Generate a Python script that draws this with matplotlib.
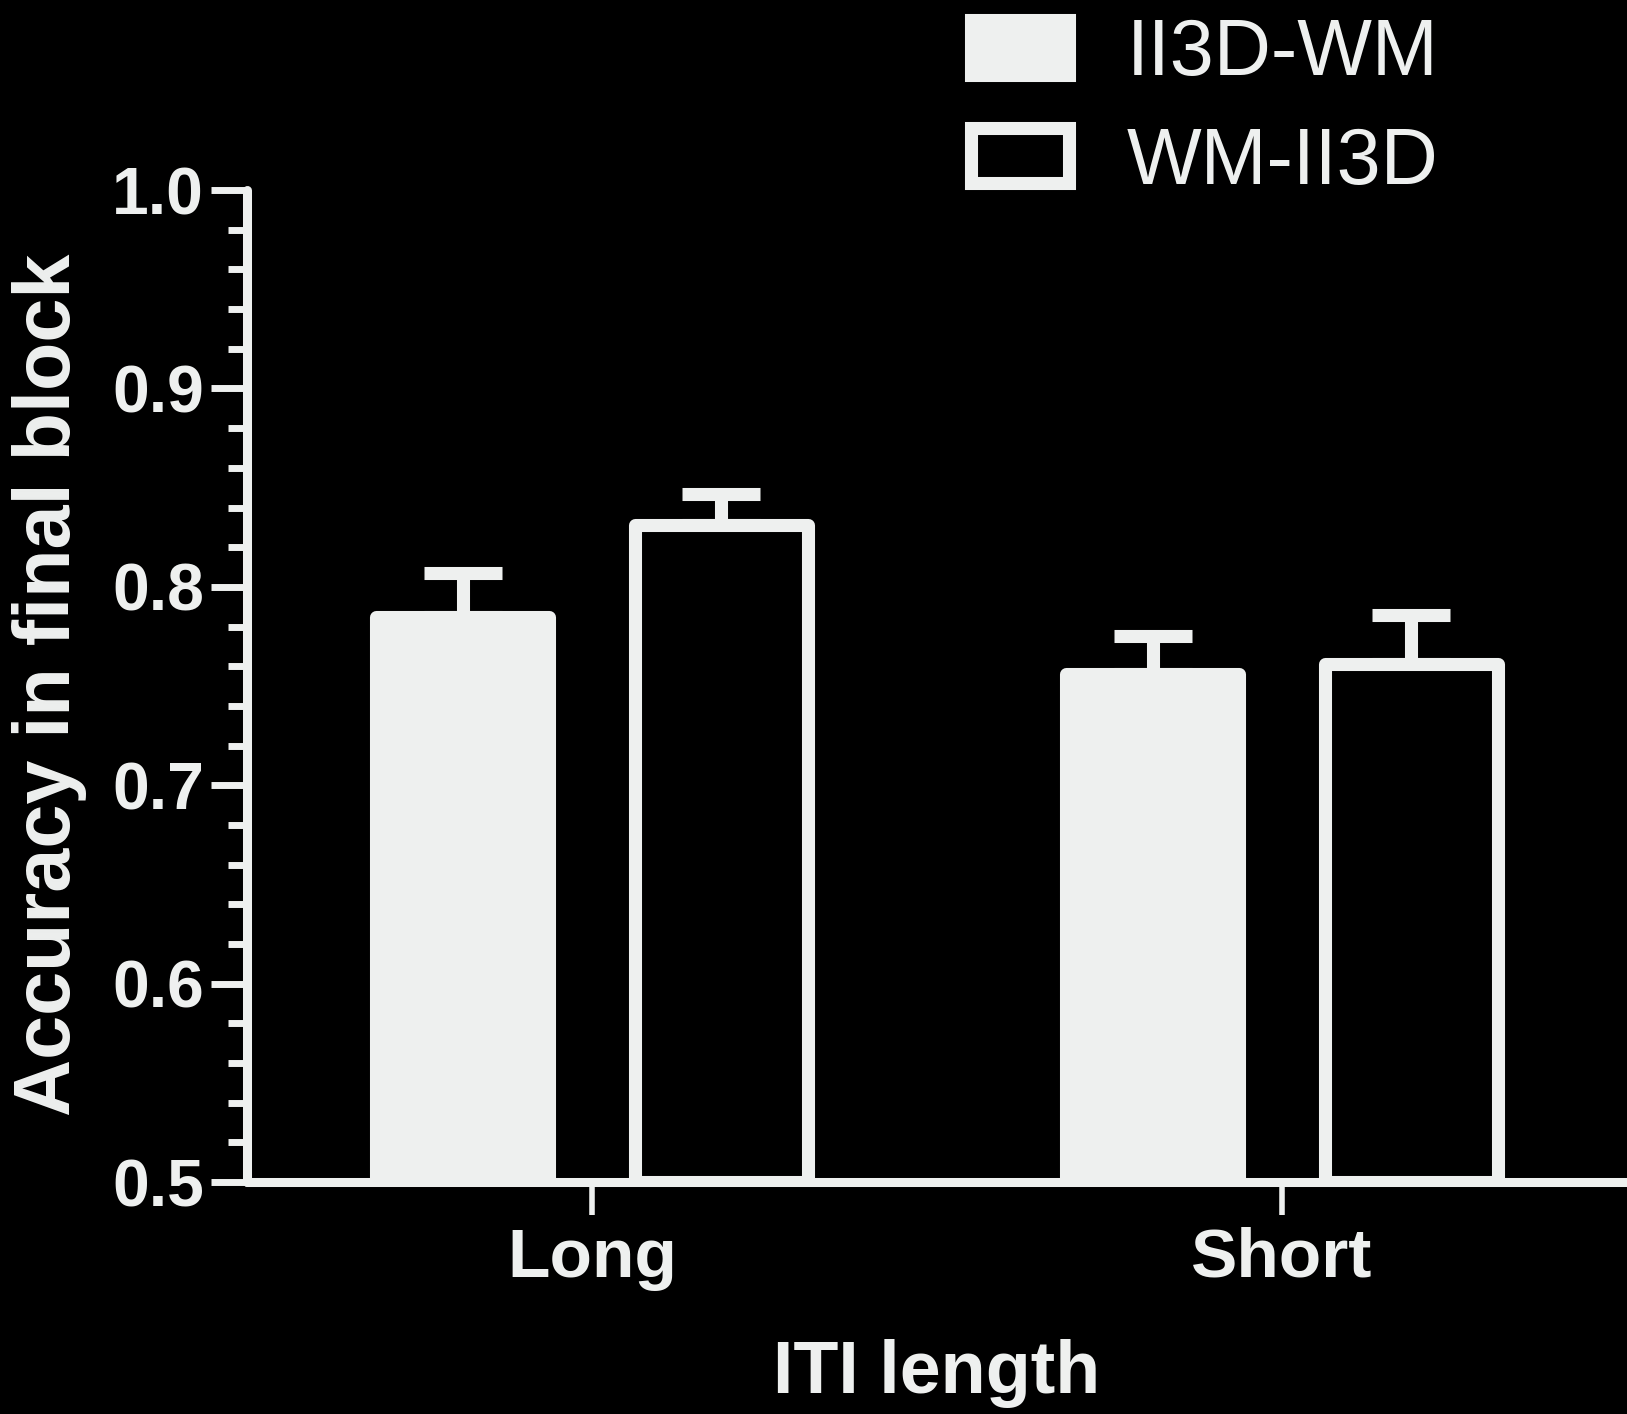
import matplotlib.pyplot as plt
import numpy as np

# values
GROUPS = ["Long", "Short"]
SERIES = ["II3D-WM", "WM-II3D"]
MEANS = {
    "II3D-WM": [0.785, 0.756],
    "WM-II3D": [0.831, 0.761],
}
UPPER = {  # top of the error bar
    "II3D-WM": [0.807, 0.775],
    "WM-II3D": [0.847, 0.786],
}

FG = "#eef0ef"
BG = "black"
plt.rcParams["font.family"] = ["Liberation Sans", "DejaVu Sans"]

fig = plt.figure(figsize=(16.27, 14.14), dpi=100, facecolor=BG)
ax = fig.add_axes([0.1518, 0.164, 0.8482, 0.7016], facecolor=BG)

x = np.arange(len(GROUPS))
width = 0.25
offsets = {"II3D-WM": -0.1875, "WM-II3D": 0.1875}
lw = 9.4

handles = []
for name in SERIES:
    filled = name == "II3D-WM"
    pos = x + offsets[name]
    bars = ax.bar(pos, np.array(MEANS[name]) - 0.5, width, bottom=0.5,
                  color=FG if filled else BG, edgecolor=FG, linewidth=lw,
                  joinstyle="round", zorder=3, label=name)
    handles.append(bars)
    err = np.array(UPPER[name]) - np.array(MEANS[name])
    ax.errorbar(pos, MEANS[name], yerr=[np.zeros_like(err), err], fmt="none",
                ecolor=FG, elinewidth=lw, capsize=28, capthick=lw, zorder=2)

ax.set_xlim(-0.5, 1.5)
ax.set_ylim(0.5, 1.0)
ax.set_xticks(x)
ax.set_xticklabels(GROUPS, fontsize=50, fontweight="bold", color=FG)
ax.set_yticks([0.5, 0.6, 0.7, 0.8, 0.9, 1.0])
ax.set_yticklabels(["0.5", "0.6", "0.7", "0.8", "0.9", "1.0"],
                   fontsize=47.5, fontweight="bold", color=FG)
ax.set_yticks(np.arange(0.5, 1.0001, 0.02), minor=True)
ax.tick_params(axis="y", which="major", length=26, width=5, color=FG, pad=5)
ax.tick_params(axis="y", which="minor", length=14, width=5, color=FG)
ax.tick_params(axis="x", which="major", length=24, width=4, color=FG, pad=8)

for s in ["top", "right"]:
    ax.spines[s].set_visible(False)
for s in ["left", "bottom"]:
    ax.spines[s].set_color(FG)
    ax.spines[s].set_linewidth(6.5)
    ax.spines[s].set_capstyle("round")

ax.set_xlabel("ITI length", fontsize=53, fontweight="bold", color=FG)
ax.xaxis.set_label_coords(0.5, -0.158)
fig.text(50 / 1627, 1 - 685 / 1414, "Accuracy in final block", rotation=90,
         ha="center", va="center", fontsize=57, fontweight="bold", color=FG)

leg = fig.legend(handles=handles, labels=SERIES, loc="center left",
                 bbox_to_anchor=(971 / 1627, 1 - 109 / 1414), frameon=False,
                 fontsize=57, handlelength=1.24, handleheight=0.69,
                 handletextpad=0.73, labelspacing=0.42, borderpad=0,
                 borderaxespad=0)
for t in leg.get_texts():
    t.set_color(FG)

fig.savefig("out.png", dpi=100, facecolor=BG)
